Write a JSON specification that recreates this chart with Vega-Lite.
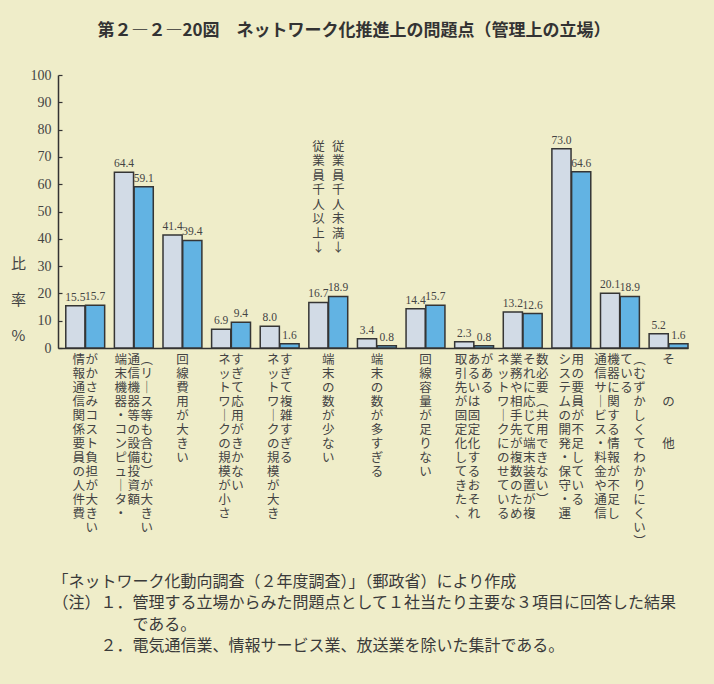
{
  "$schema": "https://vega.github.io/schema/vega-lite/v6.json",
  "width": 630,
  "height": 273,
  "autosize": {"type": "none"},
  "padding": {"left": 58, "top": 75, "right": 26, "bottom": 336},
  "background": "#efedc9",
  "title": {
    "text": "第２―２―20図　ネットワーク化推進上の問題点（管理上の立場）",
    "anchor": "middle",
    "frame": "group",
    "dx": -19,
    "offset": 28,
    "font": "Noto Sans CJK JP",
    "fontSize": 17,
    "fontWeight": "bold",
    "color": "#333333"
  },
  "config": {
    "view": {"stroke": null},
    "font": "Noto Sans CJK JP"
  },
  "datasets": {
    "bars": [
      {"no": 1, "item": "情報通信関係要員の人件費がかさみコスト負担が大きい", "series": "従業員千人以上", "value": 15.5},
      {"no": 1, "item": "情報通信関係要員の人件費がかさみコスト負担が大きい", "series": "従業員千人未満", "value": 15.7},
      {"no": 2, "item": "端末機器・コンピュータ・通信機器等の設備投資額（リース等も含む）が大きい", "series": "従業員千人以上", "value": 64.4},
      {"no": 2, "item": "端末機器・コンピュータ・通信機器等の設備投資額（リース等も含む）が大きい", "series": "従業員千人未満", "value": 59.1},
      {"no": 3, "item": "回線費用が大きい", "series": "従業員千人以上", "value": 41.4},
      {"no": 3, "item": "回線費用が大きい", "series": "従業員千人未満", "value": 39.4},
      {"no": 4, "item": "ネットワークの規模が小さすぎて応用がきかない", "series": "従業員千人以上", "value": 6.9},
      {"no": 4, "item": "ネットワークの規模が小さすぎて応用がきかない", "series": "従業員千人未満", "value": 9.4},
      {"no": 5, "item": "ネットワークの規模が大きすぎて複雑すぎる", "series": "従業員千人以上", "value": 8.0},
      {"no": 5, "item": "ネットワークの規模が大きすぎて複雑すぎる", "series": "従業員千人未満", "value": 1.6},
      {"no": 6, "item": "端末の数が少ない", "series": "従業員千人以上", "value": 16.7},
      {"no": 6, "item": "端末の数が少ない", "series": "従業員千人未満", "value": 18.9},
      {"no": 7, "item": "端末の数が多すぎる", "series": "従業員千人以上", "value": 3.4},
      {"no": 7, "item": "端末の数が多すぎる", "series": "従業員千人未満", "value": 0.8},
      {"no": 8, "item": "回線容量が足りない", "series": "従業員千人以上", "value": 14.4},
      {"no": 8, "item": "回線容量が足りない", "series": "従業員千人未満", "value": 15.7},
      {"no": 9, "item": "取引先が固定化してきた、あるいは固定化するおそれがある", "series": "従業員千人以上", "value": 2.3},
      {"no": 9, "item": "取引先が固定化してきた、あるいは固定化するおそれがある", "series": "従業員千人未満", "value": 0.8},
      {"no": 10, "item": "ネットワークにのせている業務や相手先が複数のためそれに応じて端末装置が複数必要（共用できない）", "series": "従業員千人以上", "value": 13.2},
      {"no": 10, "item": "ネットワークにのせている業務や相手先が複数のためそれに応じて端末装置が複数必要（共用できない）", "series": "従業員千人未満", "value": 12.6},
      {"no": 11, "item": "システムの開発・保守・運用の要員が不足している", "series": "従業員千人以上", "value": 73.0},
      {"no": 11, "item": "システムの開発・保守・運用の要員が不足している", "series": "従業員千人未満", "value": 64.6},
      {"no": 12, "item": "通信サービス・料金や通信機器に関する情報が不足している（むずかしくてわかりにくい）", "series": "従業員千人以上", "value": 20.1},
      {"no": 12, "item": "通信サービス・料金や通信機器に関する情報が不足している（むずかしくてわかりにくい）", "series": "従業員千人未満", "value": 18.9},
      {"no": 13, "item": "その他", "series": "従業員千人以上", "value": 5.2},
      {"no": 13, "item": "その他", "series": "従業員千人未満", "value": 1.6}
    ],
    "labels": [
      {"no": 1, "col": 1, "text": "情報通信関係要員の人件費"},
      {"no": 1, "col": 2, "text": "がかさみコスト負担が大きい"},
      {"no": 2, "col": 1, "text": "端末機器・コンピュータ・"},
      {"no": 2, "col": 2, "text": "通信機器等の設備投資額"},
      {"no": 2, "col": 3, "text": "（リース等も含む）が大きい"},
      {"no": 3, "col": 1, "text": "回線費用が大きい"},
      {"no": 4, "col": 1, "text": "ネットワークの規模が小さ"},
      {"no": 4, "col": 2, "text": "すぎて応用がきかない"},
      {"no": 5, "col": 1, "text": "ネットワークの規模が大き"},
      {"no": 5, "col": 2, "text": "すぎて複雑すぎる"},
      {"no": 6, "col": 1, "text": "端末の数が少ない"},
      {"no": 7, "col": 1, "text": "端末の数が多すぎる"},
      {"no": 8, "col": 1, "text": "回線容量が足りない"},
      {"no": 9, "col": 1, "text": "取引先が固定化してきた、"},
      {"no": 9, "col": 2, "text": "あるいは固定化するおそれ"},
      {"no": 9, "col": 3, "text": "がある"},
      {"no": 10, "col": 1, "text": "ネットワークにのせている"},
      {"no": 10, "col": 2, "text": "業務や相手先が複数のため"},
      {"no": 10, "col": 3, "text": "それに応じて端末装置が複"},
      {"no": 10, "col": 4, "text": "数必要（共用できない）"},
      {"no": 11, "col": 1, "text": "システムの開発・保守・運"},
      {"no": 11, "col": 2, "text": "用の要員が不足している"},
      {"no": 12, "col": 1, "text": "通信サービス・料金や通信"},
      {"no": 12, "col": 2, "text": "機器に関する情報が不足し"},
      {"no": 12, "col": 3, "text": "ている"},
      {"no": 12, "col": 4, "text": "（むずかしくてわかりにくい）"},
      {"no": 13, "col": 1, "text": "そ　　の　　他"}
    ],
    "annotations": [
      {"no": 6, "series": "従業員千人以上", "text": "従業員千人以上↓"},
      {"no": 6, "series": "従業員千人未満", "text": "従業員千人未満↓"}
    ]
  },
  "layer": [
    {
      "data": {"name": "bars"},
      "mark": {"type": "bar", "stroke": "#353535", "strokeWidth": 1.5},
      "encoding": {
        "x": {
          "field": "no",
          "type": "ordinal",
          "scale": {"paddingInner": 0.2, "paddingOuter": 0.08, "align": 1},
          "axis": {
            "labels": false,
            "ticks": false,
            "domainColor": "#333333",
            "domainWidth": 1.5,
            "title": [
              "「ネットワーク化動向調査（２年度調査）」（郵政省）により作成",
              "（注）１．管理する立場からみた問題点として１社当たり主要な３項目に回答した結果",
              "\u200b　　　　　である。",
              "\u200b　　　２．電気通信業、情報サービス業、放送業を除いた集計である。"
            ],
            "titleAnchor": "start",
            "titleAlign": "left",
            "titleBaseline": "top",
            "titleX": -6,
            "titleY": 225,
            "titleFont": "Noto Sans CJK JP",
            "titleFontSize": 16,
            "titleFontWeight": "normal",
            "titleLineHeight": 21.5,
            "titleColor": "#3a3a3a"
          }
        },
        "xOffset": {
          "field": "series",
          "type": "nominal",
          "sort": ["従業員千人以上", "従業員千人未満"],
          "scale": {"paddingInner": 0.03}
        },
        "y": {
          "field": "value",
          "type": "quantitative",
          "scale": {"domain": [0, 100], "nice": false},
          "axis": {
            "values": [0, 10, 20, 30, 40, 50, 60, 70, 80, 90, 100],
            "tickCount": 11,
            "labelOverlap": false,
            "grid": false,
            "tickSize": -4,
            "tickColor": "#333333",
            "tickWidth": 1.2,
            "labelPadding": 11,
            "labelFont": "Liberation Serif",
            "labelFontSize": 14,
            "labelColor": "#444444",
            "domainColor": "#333333",
            "domainWidth": 1.5,
            "title": ["比", "率", "%"],
            "titleAngle": 0,
            "titleX": -40,
            "titleY": 181,
            "titleAlign": "center",
            "titleBaseline": "top",
            "titleFont": "Noto Sans CJK JP",
            "titleFontSize": 15,
            "titleFontWeight": "normal",
            "titleLineHeight": 36,
            "titleColor": "#444444"
          }
        },
        "color": {
          "field": "series",
          "type": "nominal",
          "sort": ["従業員千人以上", "従業員千人未満"],
          "scale": {"range": ["#d2dbe6", "#62b3e3"]},
          "legend": null
        }
      }
    },
    {
      "data": {"name": "bars"},
      "mark": {"type": "text", "baseline": "bottom", "dy": -3, "font": "Liberation Serif", "fontSize": 11.5, "color": "#444444"},
      "encoding": {
        "x": {"field": "no", "type": "ordinal"},
        "xOffset": {"field": "series", "type": "nominal", "sort": ["従業員千人以上", "従業員千人未満"]},
        "y": {"field": "value", "type": "quantitative", "axis": {"values": [0, 10, 20, 30, 40, 50, 60, 70, 80, 90, 100], "tickCount": 11}},
        "text": {"field": "value", "type": "quantitative", "format": ".1f"}
      }
    },
    {
      "data": {"name": "labels"},
      "transform": [
        {"joinaggregate": [{"op": "count", "as": "ncol"}], "groupby": ["no"]},
        {"calculate": "split(replace(replace(replace(replace(datum.text, regexp('ー', 'g'), '｜'), regexp('（', 'g'), '︵'), regexp('）', 'g'), '︶'), regexp('　', 'g'), '\u200b'), '')", "as": "chars"}
      ],
      "mark": {
        "type": "text",
        "align": "center",
        "baseline": "top",
        "dy": 6,
        "fontSize": 12.5,
        "lineHeight": 14,
        "color": "#444444",
        "dx": {"expr": "13 * (datum.col - (datum.ncol + 1) / 2)"}
      },
      "encoding": {
        "x": {"field": "no", "type": "ordinal"},
        "y": {"datum": 0, "type": "quantitative", "axis": {"values": [0, 10, 20, 30, 40, 50, 60, 70, 80, 90, 100], "tickCount": 11}},
        "text": {"field": "chars", "type": "nominal"}
      }
    },
    {
      "data": {"name": "annotations"},
      "transform": [
        {"calculate": "split(datum.text, '')", "as": "chars"}
      ],
      "mark": {
        "type": "text",
        "align": "center",
        "baseline": "top",
        "fontSize": 12.5,
        "lineHeight": 14.5,
        "color": "#444444"
      },
      "encoding": {
        "x": {"field": "no", "type": "ordinal"},
        "xOffset": {"field": "series", "type": "nominal", "sort": ["従業員千人以上", "従業員千人未満"]},
        "y": {"datum": 76, "type": "quantitative", "axis": {"values": [0, 10, 20, 30, 40, 50, 60, 70, 80, 90, 100], "tickCount": 11}},
        "text": {"field": "chars", "type": "nominal"}
      }
    }
  ]
}
